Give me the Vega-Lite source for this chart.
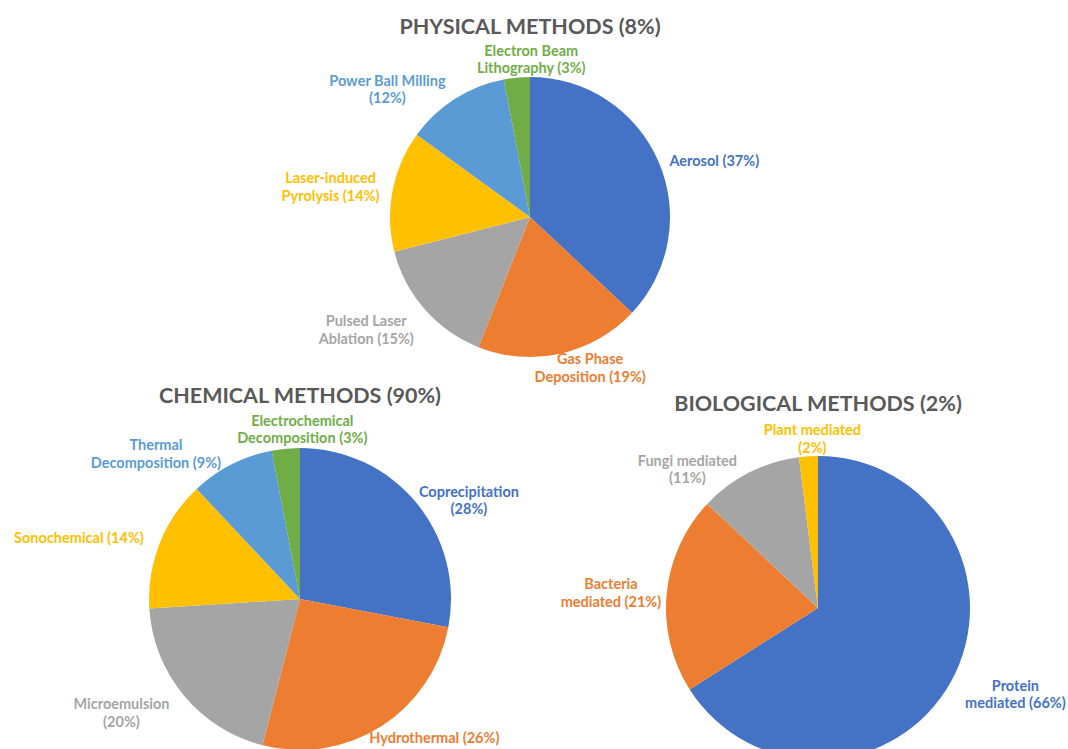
{
  "$schema": "https://vega.github.io/schema/vega-lite/v6.json",
  "padding": {"left": 0, "top": 16, "right": 0, "bottom": 0},
  "autosize": {"type": "pad"},
  "background": "white",
  "config": {
    "view": {"stroke": null},
    "font": "Lato",
    "title": {"font": "Lato", "fontSize": 21.5, "fontWeight": "bold", "color": "#595959", "baseline": "alphabetic", "anchor": "middle"},
    "text": {"font": "Lato", "fontSize": 14.5, "fontWeight": "bold", "lineHeight": 17.5, "baseline": "middle", "align": "center", "lineBreak": "|"}
  },
  "datasets": {
    "physical": [
      {"k": 1, "method": "Aerosol", "pct": 37, "label": "Aerosol (37%)"},
      {"k": 2, "method": "Gas Phase Deposition", "pct": 19, "label": "Gas Phase|Deposition (19%)"},
      {"k": 3, "method": "Pulsed Laser Ablation", "pct": 15, "label": "Pulsed Laser|Ablation (15%)"},
      {"k": 4, "method": "Laser-induced Pyrolysis", "pct": 14, "label": "Laser-induced|Pyrolysis (14%)"},
      {"k": 5, "method": "Power Ball Milling", "pct": 12, "label": "Power Ball Milling|(12%)"},
      {"k": 6, "method": "Electron Beam Lithography", "pct": 3, "label": "Electron Beam|Lithography (3%)"}
    ],
    "chemical": [
      {"k": 1, "method": "Coprecipitation", "pct": 28, "label": "Coprecipitation|(28%)"},
      {"k": 2, "method": "Hydrothermal", "pct": 26, "label": "Hydrothermal (26%)"},
      {"k": 3, "method": "Microemulsion", "pct": 20, "label": "Microemulsion|(20%)"},
      {"k": 4, "method": "Sonochemical", "pct": 14, "label": "Sonochemical (14%)"},
      {"k": 5, "method": "Thermal Decomposition", "pct": 9, "label": "Thermal|Decomposition (9%)"},
      {"k": 6, "method": "Electrochemical Decomposition", "pct": 3, "label": "Electrochemical|Decomposition (3%)"}
    ],
    "biological": [
      {"k": 1, "method": "Protein mediated", "pct": 66, "label": "Protein|mediated (66%)"},
      {"k": 2, "method": "Bacteria mediated", "pct": 21, "label": "Bacteria|mediated (21%)"},
      {"k": 3, "method": "Fungi mediated", "pct": 11, "label": "Fungi mediated|(11%)"},
      {"k": 4, "method": "Plant mediated", "pct": 2, "label": "Plant mediated|(2%)"}
    ]
  },
  "bounds": "flush",
  "spacing": 30,
  "resolve": {"scale": {"color": "independent", "theta": "independent"}},
  "vconcat": [
    {
      "width": 1060,
      "height": 352,
      "title": {"text": "PHYSICAL METHODS (8%)", "offset": 3},
      "data": {"name": "physical"},
      "transform": [
        {"stack": "pct", "groupby": [], "sort": [{"field": "k", "order": "ascending"}], "as": ["v0", "v1"]},
        {"calculate": "(datum.v0 + datum.v1) / 2", "as": "mid"}
      ],
      "encoding": {
        "color": {"field": "method", "type": "nominal", "legend": null,
          "scale": {"domain": ["Aerosol", "Gas Phase Deposition", "Pulsed Laser Ablation", "Laser-induced Pyrolysis", "Power Ball Milling", "Electron Beam Lithography"],
                    "range": ["#4472C4", "#ED7D31", "#A5A5A5", "#FFC000", "#5B9BD5", "#70AD47"]}}
      },
      "layer": [
        {"mark": {"type": "arc", "radius": 140},
         "encoding": {"theta": {"field": "v0", "type": "quantitative", "stack": null, "scale": {"domain": [0, 100]}}, "theta2": {"field": "v1"}}},
        {"transform": [{"filter": {"field": "method", "equal": "Aerosol"}}],
         "mark": {"type": "text", "radius": 191, "dx": 9, "dy": 21},
         "encoding": {"theta": {"field": "mid", "type": "quantitative", "stack": null, "scale": {"domain": [0, 100]}}, "text": {"field": "label"}}},
        {"transform": [{"filter": {"field": "method", "equal": "Gas Phase Deposition"}}],
         "mark": {"type": "text", "radius": 161, "dx": 25, "dy": -14},
         "encoding": {"theta": {"field": "mid", "type": "quantitative", "stack": null, "scale": {"domain": [0, 100]}}, "text": {"field": "label"}}},
        {"transform": [{"filter": {"field": "method", "equal": "Pulsed Laser Ablation"}}],
         "mark": {"type": "text", "radius": 197, "dx": -16, "dy": -25},
         "encoding": {"theta": {"field": "mid", "type": "quantitative", "stack": null, "scale": {"domain": [0, 100]}}, "text": {"field": "label"}}},
        {"transform": [{"filter": {"field": "method", "equal": "Laser-induced Pyrolysis"}}],
         "mark": {"type": "text", "radius": 201, "dx": -2, "dy": 0},
         "encoding": {"theta": {"field": "mid", "type": "quantitative", "stack": null, "scale": {"domain": [0, 100]}}, "text": {"field": "label"}}},
        {"transform": [{"filter": {"field": "method", "equal": "Power Ball Milling"}}],
         "mark": {"type": "text", "radius": 184, "dx": -44, "dy": 20},
         "encoding": {"theta": {"field": "mid", "type": "quantitative", "stack": null, "scale": {"domain": [0, 100]}}, "text": {"field": "label"}}},
        {"transform": [{"filter": {"field": "method", "equal": "Electron Beam Lithography"}}],
         "mark": {"type": "text", "radius": 157, "dx": 16, "dy": -9},
         "encoding": {"theta": {"field": "mid", "type": "quantitative", "stack": null, "scale": {"domain": [0, 100]}}, "text": {"field": "label"}}}
      ]
    },
    {
      "hconcat": [
        {
          "width": 600,
          "height": 352,
          "title": {"text": "CHEMICAL METHODS (90%)", "offset": 6},
          "data": {"name": "chemical"},
          "transform": [
            {"stack": "pct", "groupby": [], "sort": [{"field": "k", "order": "ascending"}], "as": ["v0", "v1"]},
            {"calculate": "(datum.v0 + datum.v1) / 2", "as": "mid"}
          ],
          "encoding": {
            "color": {"field": "method", "type": "nominal", "legend": null,
              "scale": {"domain": ["Coprecipitation", "Hydrothermal", "Microemulsion", "Sonochemical", "Thermal Decomposition", "Electrochemical Decomposition"],
                        "range": ["#4472C4", "#ED7D31", "#A5A5A5", "#FFC000", "#5B9BD5", "#70AD47"]}}
          },
          "layer": [
            {"mark": {"type": "arc", "radius": 151},
             "encoding": {"theta": {"field": "v0", "type": "quantitative", "stack": null, "scale": {"domain": [0, 100]}}, "theta2": {"field": "v1"}}},
            {"transform": [{"filter": {"field": "method", "equal": "Coprecipitation"}}],
             "mark": {"type": "text", "radius": 192, "dx": 21, "dy": 16},
             "encoding": {"theta": {"field": "mid", "type": "quantitative", "stack": null, "scale": {"domain": [0, 100]}}, "text": {"field": "label"}}},
            {"transform": [{"filter": {"field": "method", "equal": "Hydrothermal"}}],
             "mark": {"type": "text", "radius": 191, "dx": 32, "dy": -21},
             "encoding": {"theta": {"field": "mid", "type": "quantitative", "stack": null, "scale": {"domain": [0, 100]}}, "text": {"field": "label"}}},
            {"transform": [{"filter": {"field": "method", "equal": "Microemulsion"}}],
             "mark": {"type": "text", "radius": 211, "dx": -16, "dy": -28},
             "encoding": {"theta": {"field": "mid", "type": "quantitative", "stack": null, "scale": {"domain": [0, 100]}}, "text": {"field": "label"}}},
            {"transform": [{"filter": {"field": "method", "equal": "Sonochemical"}}],
             "mark": {"type": "text", "radius": 227, "dx": -10, "dy": 24},
             "encoding": {"theta": {"field": "mid", "type": "quantitative", "stack": null, "scale": {"domain": [0, 100]}}, "text": {"field": "label"}}},
            {"transform": [{"filter": {"field": "method", "equal": "Thermal Decomposition"}}],
             "mark": {"type": "text", "radius": 194, "dx": -56, "dy": 20},
             "encoding": {"theta": {"field": "mid", "type": "quantitative", "stack": null, "scale": {"domain": [0, 100]}}, "text": {"field": "label"}}},
            {"transform": [{"filter": {"field": "method", "equal": "Electrochemical Decomposition"}}],
             "mark": {"type": "text", "radius": 167, "dx": 18, "dy": -11},
             "encoding": {"theta": {"field": "mid", "type": "quantitative", "stack": null, "scale": {"domain": [0, 100]}}, "text": {"field": "label"}}}
          ]
        },
        {
          "width": 436,
          "height": 370,
          "title": {"text": "BIOLOGICAL METHODS (2%)", "offset": 8},
          "data": {"name": "biological"},
          "transform": [
            {"stack": "pct", "groupby": [], "sort": [{"field": "k", "order": "ascending"}], "as": ["v0", "v1"]},
            {"calculate": "(datum.v0 + datum.v1) / 2", "as": "mid"}
          ],
          "encoding": {
            "color": {"field": "method", "type": "nominal", "legend": null,
              "scale": {"domain": ["Protein mediated", "Bacteria mediated", "Fungi mediated", "Plant mediated"],
                        "range": ["#4472C4", "#ED7D31", "#A5A5A5", "#FFC000"]}}
          },
          "layer": [
            {"mark": {"type": "arc", "radius": 152},
             "encoding": {"theta": {"field": "v0", "type": "quantitative", "stack": null, "scale": {"domain": [0, 100]}}, "theta2": {"field": "v1"}}},
            {"transform": [{"filter": {"field": "method", "equal": "Protein mediated"}}],
             "mark": {"type": "text", "radius": 215, "dx": 9, "dy": -25},
             "encoding": {"theta": {"field": "mid", "type": "quantitative", "stack": null, "scale": {"domain": [0, 100]}}, "text": {"field": "label"}}},
            {"transform": [{"filter": {"field": "method", "equal": "Bacteria mediated"}}],
             "mark": {"type": "text", "radius": 208, "dx": 0, "dy": -3},
             "encoding": {"theta": {"field": "mid", "type": "quantitative", "stack": null, "scale": {"domain": [0, 100]}}, "text": {"field": "label"}}},
            {"transform": [{"filter": {"field": "method", "equal": "Fungi mediated"}}],
             "mark": {"type": "text", "radius": 182, "dx": -48, "dy": 16},
             "encoding": {"theta": {"field": "mid", "type": "quantitative", "stack": null, "scale": {"domain": [0, 100]}}, "text": {"field": "label"}}},
            {"transform": [{"filter": {"field": "method", "equal": "Plant mediated"}}],
             "mark": {"type": "text", "radius": 169, "dx": 5, "dy": -8},
             "encoding": {"theta": {"field": "mid", "type": "quantitative", "stack": null, "scale": {"domain": [0, 100]}}, "text": {"field": "label"}}}
          ]
        }
      ],
      "spacing": 0,
      "bounds": "flush",
      "resolve": {"scale": {"color": "independent", "theta": "independent"}}
    }
  ]
}
